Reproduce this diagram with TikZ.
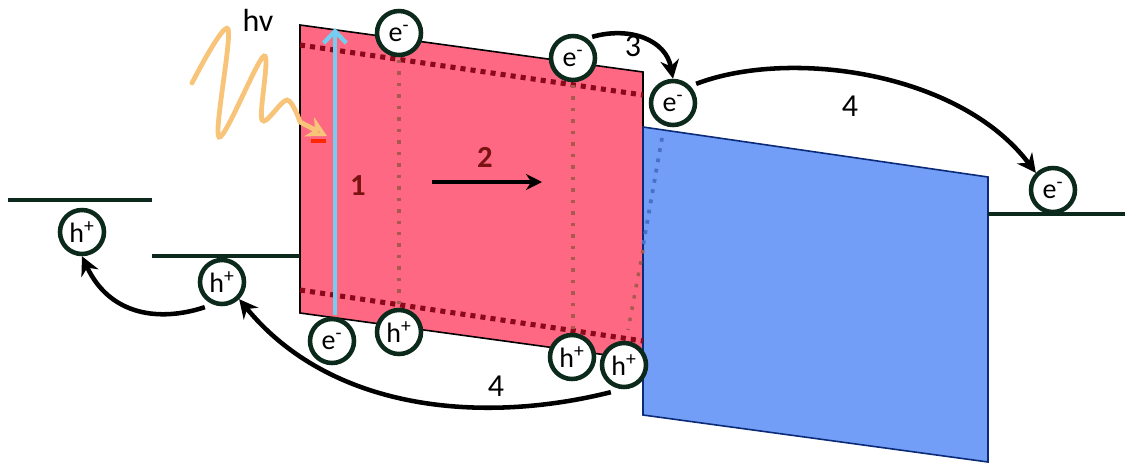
\documentclass[tikz,border=0pt]{standalone}
\usepackage{fontspec}
\setmainfont{Carlito}
\usetikzlibrary{arrows.meta}
\definecolor{absorber}{HTML}{FF6882}
\definecolor{acceptor}{HTML}{729EF7}
\definecolor{acceptorline}{HTML}{0B2A78}
\definecolor{bandred}{HTML}{8A0A1C}
\definecolor{gridbrown}{HTML}{A85A50}
\definecolor{levelgreen}{HTML}{0C2A1C}
\definecolor{photon}{HTML}{F8C47A}
\definecolor{photontip}{HTML}{F6A05A}
\definecolor{excite}{HTML}{74CEF2}
\definecolor{labelred}{HTML}{7A1212}

\tikzset{
  carrier/.style={circle, draw=levelgreen, line width=3.4pt, fill=white,
    minimum size=33pt, inner sep=0pt, font=\fontsize{21}{21}\selectfont},
  level/.style={levelgreen, line width=3pt},
  bandedge/.style={bandred, line width=3.8pt, dash pattern=on 3.8pt off 3.8pt},
  gridline/.style={gridbrown, line width=2.6pt, dash pattern=on 2.6pt off 6pt},
  transfer/.style={black, line width=3.4pt, -{Stealth[length=14pt,width=14pt]}},
  steplabel/.style={font=\fontsize{24}{24}\selectfont}
}

\begin{document}
\begin{tikzpicture}[x=0.75pt, y=-0.75pt]
    \useasboundingbox (0,0) rectangle (1125,465);

    % Absorber and acceptor blocks
    \filldraw[fill=absorber, draw=black, line width=1.2pt]
        (300,25) -- (643,72) -- (643,360) -- (300,313) -- cycle;
    \filldraw[fill=acceptor, draw=acceptorline, line width=1.2pt]
        (643,127) -- (988,177) -- (988,462) -- (643,415) -- cycle;

    % Band edges inside the absorber
    \draw[bandedge] (300,45) -- (643,95);
    \draw[bandedge] (300,290) -- (643,341);
    \draw[gridline] (399,60) -- (399,305);
    \draw[gridline] (573,85) -- (573,330);
    \draw[gridline] (643,250) -- (628,330);
    \draw[acceptorline!40!acceptor, line width=2.8pt, dash pattern=on 2.8pt off 5pt]
        (662,138) -- (643,246);

    % Contact levels
    \draw[level] (8,200) -- (152,200);
    \draw[level] (152,256) -- (300,256);
    \draw[level] (988,214) -- (1125,214);

    % Incoming photon
    \draw[photon, line width=3.6pt, line cap=round]
        plot[smooth, tension=0.55] coordinates {(192,83) (228,29) (219,137) (264,56) (262,120) (287,100) (300,122)};
    \draw[photon, line width=3.6pt, -{Stealth[length=15pt,width=16pt,fill=photontip]}]
        (300,122) -- (327,136);
    \draw[red!70!orange, line width=2.6pt] (311,141) -- (326,141);
    \node[steplabel] (hv) at (258,20) {hv};

    % Carriers
    \node[carrier] (eE) at (332,341) {e\textsuperscript{-}};
    \draw[excite, line width=3.2pt, -{Straight Barb[length=9pt,width=17pt]}] (eE.north) ++(3,-2) -- (335,28);

    \node[carrier] (eA) at (399,33) {e\textsuperscript{-}};
    \node[carrier] (eB) at (573,58) {e\textsuperscript{-}};
    \node[carrier] (eC) at (673,103) {e\textsuperscript{-}};
    \node[carrier] (eD) at (1053,190) {e\textsuperscript{-}};
    \node[carrier] (hA) at (82,232) {h\textsuperscript{+}};
    \node[carrier] (hB) at (222,282) {h\textsuperscript{+}};
    \node[carrier] (hC) at (399,332) {h\textsuperscript{+}};
    \node[carrier] (hD) at (572,357) {h\textsuperscript{+}};
    \node[carrier] (hE) at (624,365) {h\textsuperscript{+}};

    % Steps 1 and 2
    \node[labelred, font=\bfseries\fontsize{23}{23}\selectfont] (one) at (358,186) {1};
    \node[labelred, font=\bfseries\fontsize{23}{23}\selectfont] (two) at (485,157) {2};
    \coordinate (driftA) at (432,182);
    \coordinate (driftB) at (542,182);
    \draw[transfer, -{Stealth[length=12pt,width=12pt]}] (driftA) -- (driftB);

    % Charge transfer (3) and extraction (4)
    \draw[transfer] (eB.north east) ++(2,-4) .. controls (630,26) and (666,40) .. (eC.north);
    \node[steplabel] (three) at (633,46) {3};
    \draw[transfer] (eC.north east) ++(6,-2) .. controls (790,48) and (960,72) .. (eD.north west);
    \node[steplabel] (fourR) at (850,106) {4};
    \draw[transfer] (hE.south west) ++(4,10) .. controls (480,425) and (330,410) .. (hB.south east);
    \node[steplabel] (fourL) at (496,386) {4};
    \draw[transfer] (hB.south west) ++(0,8) .. controls (160,322) and (110,316) .. (hA.south);
\end{tikzpicture}
\end{document}
